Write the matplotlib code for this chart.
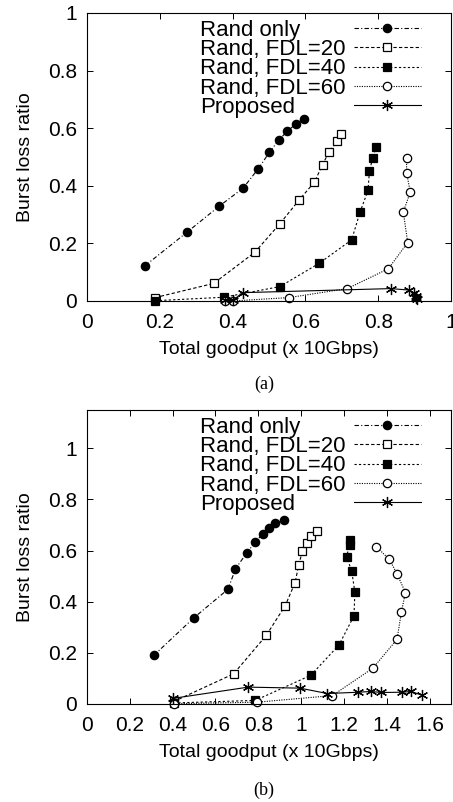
import matplotlib
matplotlib.use("Agg")
import matplotlib.pyplot as plt

plt.rcParams['font.family'] = ['Liberation Sans', 'DejaVu Sans']

# noms des courbes
labels = ["Rand only", "Rand, FDL=20", "Rand, FDL=40", "Rand, FDL=60", "Proposed"]

# (a)
a_rand_x = [0.160, 0.275, 0.363, 0.429, 0.471, 0.501, 0.527, 0.550, 0.573, 0.595]
a_rand_y = [0.123, 0.239, 0.329, 0.392, 0.460, 0.516, 0.559, 0.589, 0.614, 0.633]
a_f20_x = [0.188, 0.348, 0.461, 0.529, 0.583, 0.625, 0.647, 0.665, 0.687, 0.699]
a_f20_y = [0.012, 0.061, 0.169, 0.267, 0.351, 0.413, 0.473, 0.518, 0.554, 0.581]
a_f40_x = [0.188, 0.376, 0.530, 0.638, 0.727, 0.750, 0.772, 0.776, 0.785, 0.794]
a_f40_y = [0.001, 0.013, 0.050, 0.131, 0.212, 0.308, 0.384, 0.452, 0.496, 0.534]
a_f60_x = [0.378, 0.401, 0.556, 0.715, 0.828, 0.881, 0.869, 0.888, 0.878, 0.878]
a_f60_y = [0.000, 0.000, 0.012, 0.043, 0.112, 0.203, 0.309, 0.378, 0.446, 0.496]
a_prop_x = [0.380, 0.400, 0.429, 0.834, 0.885, 0.899, 0.903, 0.905, 0.906]
a_prop_y = [0.002, 0.002, 0.029, 0.043, 0.038, 0.027, 0.018, 0.012, 0.008]

# (b)
b_rand_x = [0.312, 0.499, 0.659, 0.693, 0.746, 0.786, 0.820, 0.851, 0.878, 0.922]
b_rand_y = [0.190, 0.337, 0.449, 0.528, 0.591, 0.633, 0.665, 0.690, 0.709, 0.718]
b_f20_x = [0.406, 0.685, 0.837, 0.926, 0.972, 0.989, 1.006, 1.026, 1.047, 1.074]
b_f20_y = [0.010, 0.118, 0.268, 0.385, 0.475, 0.545, 0.597, 0.630, 0.657, 0.678]
b_f40_x = [0.406, 0.786, 1.045, 1.177, 1.247, 1.251, 1.236, 1.212, 1.226, 1.226]
b_f40_y = [0.004, 0.014, 0.112, 0.231, 0.345, 0.437, 0.522, 0.575, 0.621, 0.640]
b_f60_x = [0.406, 0.794, 1.146, 1.335, 1.448, 1.468, 1.487, 1.448, 1.412, 1.352]
b_f60_y = [0.001, 0.007, 0.033, 0.140, 0.253, 0.358, 0.436, 0.509, 0.566, 0.614]
b_prop_x = [0.402, 0.753, 0.995, 1.122, 1.267, 1.327, 1.374, 1.471, 1.515, 1.564]
b_prop_y = [0.022, 0.066, 0.062, 0.041, 0.046, 0.049, 0.045, 0.046, 0.049, 0.034]

a_xticks = [0, 0.2, 0.4, 0.6, 0.8, 1]
a_xlabels = ["0", "0.2", "0.4", "0.6", "0.8", "1"]
b_xticks = [0, 0.2, 0.4, 0.6, 0.8, 1, 1.2, 1.4, 1.6]
b_xlabels = ["0", "0.2", "0.4", "0.6", "0.8", "1", "1.2", "1.4", "1.6"]
yticks = [0, 0.2, 0.4, 0.6, 0.8, 1]
ylabels = ["0", "0.2", "0.4", "0.6", "0.8", "1"]

styles = [
    dict(linestyle=(0, (4, 2, 1, 2)), marker='o', mfc='black', ms=6),
    dict(linestyle=(0, (3, 2)), marker='s', mfc='white', ms=6),
    dict(linestyle=(0, (2, 2)), marker='s', mfc='black', ms=6),
    dict(linestyle=(0, (1, 1.2)), marker='o', mfc='white', ms=6),
    dict(linestyle='-', marker=(6, 2, 0), mfc='black', ms=8),
]

fig = plt.figure(figsize=(4.53, 8.02), dpi=100)
ax1 = fig.add_axes([0.192, 0.6247, 0.8036, 0.3591])
ax2 = fig.add_axes([0.192, 0.1222, 0.8036, 0.3666])


def panel(ax, series, xlim, ylim, xt, xl):
    for (x, y), lab, st in zip(series, labels, styles):
        ax.plot(x, y, color='black', lw=0.8, mec='black', mew=0.9,
                label=lab, clip_on=False, **st)
    ax.set_xlim(*xlim)
    ax.set_ylim(*ylim)
    ax.set_xticks(xt)
    ax.set_xticklabels(xl)
    ax.set_yticks(yticks)
    ax.set_yticklabels(ylabels)
    ax.tick_params(direction='in', top=True, right=True, length=4, width=0.7,
                   labelsize=15, pad=7)
    ax.tick_params(axis='x', pad=9)
    for s in ax.spines.values():
        s.set_linewidth(0.8)
    ax.set_xlabel("Total goodput (x 10Gbps)", fontsize=14, labelpad=6)
    ax.set_ylabel("Burst loss ratio", fontsize=14, labelpad=10)
    leg = ax.legend(loc='upper right', bbox_to_anchor=(0.917, 0.977),
                    frameon=False, markerfirst=False, fontsize=16,
                    handlelength=3.0, handletextpad=0.4, labelspacing=-0.075,
                    borderaxespad=0, borderpad=0)
    return leg


legs = []
legs.append(panel(ax1, [(a_rand_x, a_rand_y), (a_f20_x, a_f20_y),
                        (a_f40_x, a_f40_y), (a_f60_x, a_f60_y),
                        (a_prop_x, a_prop_y)],
                  (0, 1), (0, 1), a_xticks, a_xlabels))
legs.append(panel(ax2, [(b_rand_x, b_rand_y), (b_f20_x, b_f20_y),
                        (b_f40_x, b_f40_y), (b_f60_x, b_f60_y),
                        (b_prop_x, b_prop_y)],
                  (0, 1.7), (0, 1.15), b_xticks, b_xlabels))

# texte de la légende aligné à gauche, symboles alignés à droite
fig.canvas.draw()
r = fig.canvas.get_renderer()
for leg in legs:
    w = [t.get_window_extent(r).width for t in leg.get_texts()]
    col = leg._legend_handle_box.get_children()[0]
    for item, wi in zip(col.get_children(), w):
        item.sep = item.sep + (max(w) - wi) * 72 / fig.dpi

fig.text(0.583, 1 - 384 / 802, "(a)", family='Liberation Serif', fontsize=13,
         ha='center', va='center')
fig.text(0.583, 1 - 790 / 802, "(b)", family='Liberation Serif', fontsize=13,
         ha='center', va='center')

fig.savefig("out.png", dpi=100)
